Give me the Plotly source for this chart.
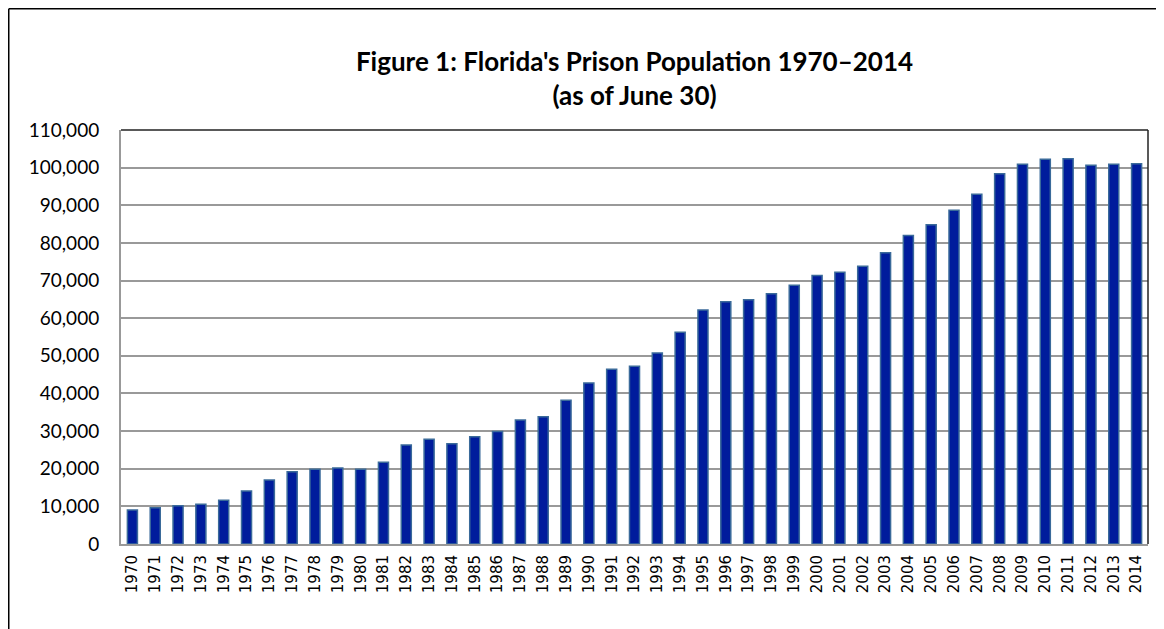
import plotly.graph_objects as go

years = [str(y) for y in range(1970, 2015)]
population = [
    9030, 9650, 10180, 10540, 11600, 14080, 17000, 19200, 19840, 20190,
    19840, 21700, 26300, 27800, 26650, 28500, 29900, 32950, 33830, 38180,
    42780, 46410, 47200, 50750, 56250, 62170, 64380, 64920, 66500, 68730,
    71350, 72180, 73770, 77400, 82000, 84840, 88650, 92900, 98390, 100880,
    102200, 102380, 100610, 100880, 101060,
]
y_ticks = list(range(0, 110001, 10000))
y_tick_text = [f"{v:,}" for v in y_ticks]
title_lines = ["Figure 1: Florida's Prison Population 1970–2014", "(as of June 30)"]

W, H = 1156, 621
ML, MR, MT, MB = 113, 16, 122, 85
PW, PH = W - ML - MR, H - MT - MB

fig = go.Figure(
    go.Bar(
        x=years,
        y=population,
        width=0.44,
        marker=dict(color="#001C9C", line=dict(color="#3A6A9A", width=1.5)),
        hoverinfo="x+y",
    )
)

fig.update_layout(
    width=W,
    height=H,
    paper_bgcolor="white",
    plot_bgcolor="white",
    margin=dict(l=ML, r=MR, t=MT, b=MB),
    showlegend=False,
    title=dict(
        text="<b>" + "<br>".join(title_lines) + "</b>",
        xref="paper",
        x=0.5,
        xanchor="center",
        yref="container",
        y=1 - 63 / H,
        yanchor="top",
        font=dict(family="Lato", size=26, color="black"),
    ),
)

fig.update_xaxes(
    type="category",
    tickangle=-90,
    tickfont=dict(family="DejaVu Sans", size=15, color="black"),
    showline=True,
    linecolor="#999999",
    linewidth=2,
    showgrid=False,
    ticks="outside",
    ticklen=3,
    tickcolor="white",
    range=[-0.5, len(years) - 0.5],
)

fig.update_yaxes(
    range=[0, 110000],
    tickvals=y_ticks,
    ticktext=y_tick_text,
    tickfont=dict(family="Lato", size=19, color="black"),
    showgrid=True,
    gridcolor="#999999",
    gridwidth=1.5,
    showline=True,
    linecolor="#999999",
    linewidth=2,
    zeroline=False,
    ticks="outside",
    ticklen=16,
    tickcolor="white",
)

# top and right plot borders (dark)
fig.add_shape(type="line", xref="paper", yref="paper", x0=0, x1=1, y0=1, y1=1,
              line=dict(color="#222222", width=1.5))
fig.add_shape(type="line", xref="paper", yref="paper", x0=1, x1=1, y0=0, y1=1,
              line=dict(color="#222222", width=1.5))

# outer frame (top and left)
fx = -(ML - 0.75) / PW
fy = 1 + (MT - 0.75) / PH
fig.add_shape(type="line", xref="paper", yref="paper",
              x0=fx, x1=1 + MR / PW, y0=fy, y1=fy,
              line=dict(color="black", width=1.5))
fig.add_shape(type="line", xref="paper", yref="paper",
              x0=fx, x1=fx, y0=-MB / PH, y1=fy,
              line=dict(color="black", width=1.5))

fig.write_html("out.html")
